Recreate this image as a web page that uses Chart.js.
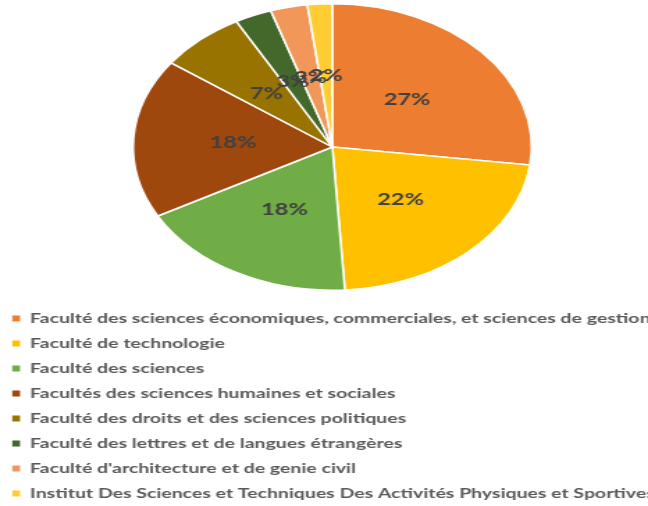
<!DOCTYPE html>
<html><head><meta charset="utf-8">
<script src="https://cdn.jsdelivr.net/npm/chart.js@4"></script>
<style>
html,body{margin:0;padding:0;background:#fff;overflow:hidden;}
#wrap{width:466px;height:506px;transform:scaleX(1.3906);transform-origin:0 0;}
</style></head><body>
<div id="wrap"><canvas id="c"></canvas></div>
<script>
const categories = [
  "Faculté des sciences économiques, commerciales, et sciences de gestion",
  "Faculté de technologie",
  "Faculté des sciences",
  "Facultés des sciences humaines et sociales",
  "Faculté des droits et des sciences politiques",
  "Faculté des lettres et de langues étrangères",
  "Faculté d'architecture et de genie civil",
  "Institut Des Sciences et Techniques Des Activités Physiques et Sportives"
];
const values = [27, 22, 18, 18, 7, 3, 3, 2];
const colors = ["#ED7D31", "#FFC000", "#70AD47", "#9E480E", "#997300", "#43682B", "#F1975A", "#FFCD33"];

const pctLabels = {
  id: 'pctLabels',
  afterDatasetsDraw(chart) {
    const ctx = chart.ctx;
    const meta = chart.getDatasetMeta(0);
    ctx.save();
    ctx.font = 'bold 17px Lato, sans-serif';
    ctx.fillStyle = '#404040';
    ctx.textAlign = 'center';
    ctx.textBaseline = 'middle';
    meta.data.forEach((arc, i) => {
      const p = arc.tooltipPosition();
      ctx.fillText(values[i] + '%', p.x, p.y);
    });
    ctx.restore();
  }
};

const legendList = {
  id: 'legendList',
  afterDraw(chart) {
    const ctx = chart.ctx;
    ctx.save();
    ctx.font = 'bold 14px Lato, sans-serif';
    ctx.textBaseline = 'middle';
    ctx.textAlign = 'left';
    categories.forEach((lab, i) => {
      const y = 318.5 + 25 * i;
      ctx.fillStyle = colors[i];
      ctx.fillRect(8.8, y - 3, 5.6, 6);
      ctx.fillStyle = '#595959';
      ctx.fillText(lab, 21.6, y);
    });
    ctx.restore();
  }
};

new Chart(document.getElementById('c'), {
  type: 'pie',
  data: {
    labels: categories,
    datasets: [{
      data: values,
      backgroundColor: colors,
      borderColor: '#ffffff',
      borderWidth: 1.5
    }]
  },
  options: {
    responsive: true,
    maintainAspectRatio: false,
    animation: false,
    layout: { padding: { top: 3, bottom: 215, left: 12, right: 0 } },
    plugins: { legend: { display: false }, tooltip: { enabled: false } }
  },
  plugins: [pctLabels, legendList]
});
</script>
</body></html>
